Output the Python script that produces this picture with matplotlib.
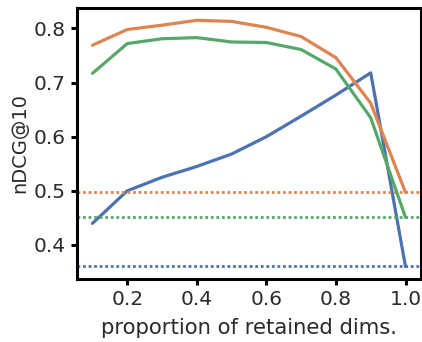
import numpy as np
import seaborn as sns
from matplotlib import pyplot as plt

# proportion of retained dimensions
props = [0.1, 0.2, 0.3, 0.4, 0.5, 0.6, 0.7, 0.8, 0.9, 1.0]

# nDCG@10 per model
ndcg_blue = [0.440, 0.500, 0.525, 0.545, 0.568, 0.600, 0.638, 0.677, 0.718, 0.360]
ndcg_orange = [0.769, 0.798, 0.806, 0.815, 0.813, 0.802, 0.785, 0.746, 0.662, 0.497]
ndcg_green = [0.717, 0.772, 0.781, 0.783, 0.775, 0.774, 0.761, 0.725, 0.635, 0.451]

# full-dimension baselines (dotted)
base_blue = 0.361
base_orange = 0.497
base_green = 0.452

sns.set_style("ticks")
plt.rcParams['font.family'] = ['DejaVu Sans']
palette = sns.color_palette("deep")

fig = plt.figure(figsize=(4.22, 3.42), dpi=100)
ax = fig.add_axes([0.182, 0.184, 0.816, 0.793])

for vals, base, col in [(ndcg_blue, base_blue, palette[0]),
                        (ndcg_orange, base_orange, palette[1]),
                        (ndcg_green, base_green, palette[2])]:
    ax.plot(props, vals, color=col, lw=2.3)
    ax.axhline(base, color=col, lw=2.0, ls=(0, (1, 1)))

ax.set_xlim(0.055, 1.045)
ax.set_ylim(0.337, 0.838)
ax.set_xticks([0.2, 0.4, 0.6, 0.8, 1.0])
ax.set_yticks([0.4, 0.5, 0.6, 0.7, 0.8])

for sp in ax.spines.values():
    sp.set_linewidth(2.2)
    sp.set_color("black")
ax.tick_params(axis="both", labelsize=14.5, width=2.2, length=4, pad=4,
               color="black", labelcolor="#2a2a2a")

ax.set_xlabel("proportion of retained dims.", fontsize=15.2, color="#2a2a2a",
              labelpad=6)
ax.set_ylabel("nDCG@10", fontsize=14, color="#2a2a2a", labelpad=3)

fig.savefig("out.png", dpi=100)
